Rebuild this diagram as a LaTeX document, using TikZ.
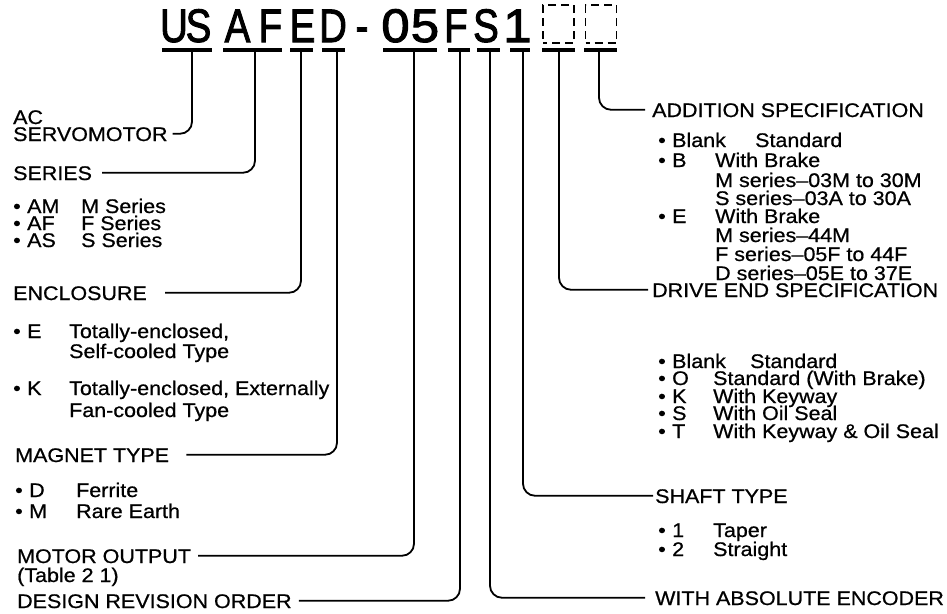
\documentclass[tikz,border=0pt]{standalone}
\usepackage{fontspec}
\setmainfont{Liberation Sans}[FakeBold=0.7, FakeStretch=1.09]
\newfontfamily\hdfont{Liberation Sans}[FakeBold=2.2]
\newcommand\narrowch[1]{\scalebox{0.82}[1]{#1}}
\newcommand\widech[1]{\scalebox{1.08}[1]{#1}}
\newcommand\itemline[3]{\makebox[14pt][l]{•}\makebox[#1][l]{#2}#3}
\begin{document}
\begin{tikzpicture}[x=1pt,y=-1pt,
  txt/.style={anchor=base west, inner sep=0pt, text height=14.5pt, text depth=0pt,
              font=\fontsize{19.7}{21}\selectfont},
  hd/.style={anchor=base, inner sep=0pt, font=\hdfont\fontsize{47}{47}\selectfont},
  dbox/.style={draw, line width=1.9pt, dash pattern=on 8pt off 5pt, dash phase=4pt,
               minimum width=31pt, minimum height=38pt, inner sep=0pt},
  ul/.style={line width=3.4pt},
  conn/.style={line width=1.8pt, rounded corners=12pt}]
\useasboundingbox (0,0) rectangle (947,613);

% ---- header code ----
\node[hd] (h1)  at (174,42)   {\narrowch{U}};
\node[hd] (h2)  at (198.5,42) {\narrowch{S}};
\node[hd] (h3)  at (237.5,42) {\narrowch{A}};
\node[hd] (h4)  at (270.5,42) {\narrowch{F}};
\node[hd] (h5)  at (302.5,42) {\narrowch{E}};
\node[hd] (h6)  at (333,42)   {\narrowch{D}};
\node[hd] (h7)  at (362,42)   {\narrowch{-}};
\node[hd] (h8)  at (395.5,42) {\widech{0}};
\node[hd] (h9)  at (425,42)   {\widech{5}};
\node[hd] (h10) at (456,42)   {\narrowch{F}};
\node[hd] (h11) at (486,42)   {\narrowch{S}};
\node[hd] (h12) at (517.5,42) {\widech{1}};
\node[dbox] (b1) at (558.5,24) {};
\node[dbox] (b2) at (601,24) {};

% ---- underlines ----
\draw[ul] (162,50) -- (212,50);
\draw[ul] (223,50) -- (282,50);
\draw[ul] (290,50) -- (313,50);
\draw[ul] (322,50) -- (345,50);
\draw[ul] (383,50) -- (437,50);
\draw[ul] (448,50) -- (470,50);
\draw[ul] (477,50) -- (500,50);
\draw[ul] (510,50) -- (530,50);
\draw[ul] (542,50) -- (575,50);
\draw[ul] (584,50) -- (617,50);

\coordinate (t1)  at (192,50);
\coordinate (t2)  at (255,50);
\coordinate (t3)  at (301,50);
\coordinate (t4)  at (337,50);
\coordinate (t5)  at (414,50);
\coordinate (t6)  at (460,50);
\coordinate (t7)  at (490,50);
\coordinate (t8)  at (523,50);
\coordinate (t9)  at (559,50);
\coordinate (t10) at (599,50);

% ---- left labels ----
\node[txt] (ac)     at (13,124) {AC};
\node[txt] (servo)  at (13,141) {SERVOMOTOR};
\node[txt] (series) at (13,180) {SERIES};
\node[txt] (s1) at (13,213) {\itemline{54pt}{AM}{M Series}};
\node[txt] (s2) at (13,230) {\itemline{54pt}{AF}{F Series}};
\node[txt] (s3) at (13,247) {\itemline{54pt}{AS}{S Series}};
\node[txt] (encl)   at (13,300) {ENCLOSURE};
\node[txt] (e1)  at (13,338) {\itemline{42pt}{E}{Totally-enclosed,}};
\node[txt] (e1b) at (69,358) {Self-cooled Type};
\node[txt] (e2)  at (13,395) {\itemline{42pt}{K}{Totally-enclosed, Externally}};
\node[txt] (e2b) at (69,417) {Fan-cooled Type};
\node[txt] (magnet) at (15,462) {MAGNET TYPE};
\node[txt] (m1) at (15,497) {\itemline{47pt}{D}{Ferrite}};
\node[txt] (m2) at (15,518) {\itemline{47pt}{M}{Rare Earth}};
\node[txt] (motor)  at (17,563) {MOTOR OUTPUT};
\node[txt] (table)  at (17,582) {(Table 2 1)};
\node[txt] (design) at (17,608) {DESIGN REVISION ORDER};

% ---- right labels ----
\node[txt] (addition) at (652,117) {ADDITION SPECIFICATION};
\node[txt] (a1) at (658,147) {\itemline{83pt}{Blank}{Standard}};
\node[txt] (a2) at (658,167) {\itemline{43pt}{B}{With Brake}};
\node[txt] (a3) at (715,187) {M series–03M to 30M};
\node[txt] (a4) at (715,205) {S series–03A to 30A};
\node[txt] (a5) at (658,223) {\itemline{43pt}{E}{With Brake}};
\node[txt] (a6) at (715,242) {M series–44M};
\node[txt] (a7) at (715,261) {F series–05F to 44F};
\node[txt] (a8) at (715,280) {D series–05E to 37E};
\node[txt] (drive) at (652,297) {DRIVE END SPECIFICATION};
\node[txt] (d1) at (658,368) {\itemline{78pt}{Blank}{Standard}};
\node[txt] (d2) at (658,385) {\itemline{41pt}{O}{Standard (With Brake)}};
\node[txt] (d3) at (658,403) {\itemline{41pt}{K}{With Keyway}};
\node[txt] (d4) at (658,420) {\itemline{41pt}{S}{With Oil Seal}};
\node[txt] (d5) at (658,438) {\itemline{41pt}{T}{With Keyway \& Oil Seal}};
\node[txt] (shaft) at (655,503) {SHAFT TYPE};
\node[txt] (sh1) at (658,537) {\itemline{41pt}{1}{Taper}};
\node[txt] (sh2) at (658,556) {\itemline{41pt}{2}{Straight}};
\node[txt] (absenc) at (655,605) {WITH ABSOLUTE ENCODER};

% ---- connectors ----
\draw[conn] (t1)  |- ([xshift=5pt]servo.east);
\draw[conn] (t2)  |- ([xshift=10pt]series.east);
\draw[conn] (t3)  |- ([xshift=18pt]encl.east);
\draw[conn] (t4)  |- ([xshift=17pt]magnet.east);
\draw[conn] (t5)  |- ([xshift=7pt]motor.east);
\draw[conn] (t6)  |- ([xshift=7pt]design.east);
\draw[conn] (t7)  |- ([xshift=-10pt]absenc.west);
\draw[conn] (t8)  |- ([xshift=-2pt]shaft.west);
\draw[conn] (t9)  |- ([xshift=-4pt]drive.west);
\draw[conn] (t10) |- ([xshift=-7pt]addition.west);
\end{tikzpicture}
\end{document}
